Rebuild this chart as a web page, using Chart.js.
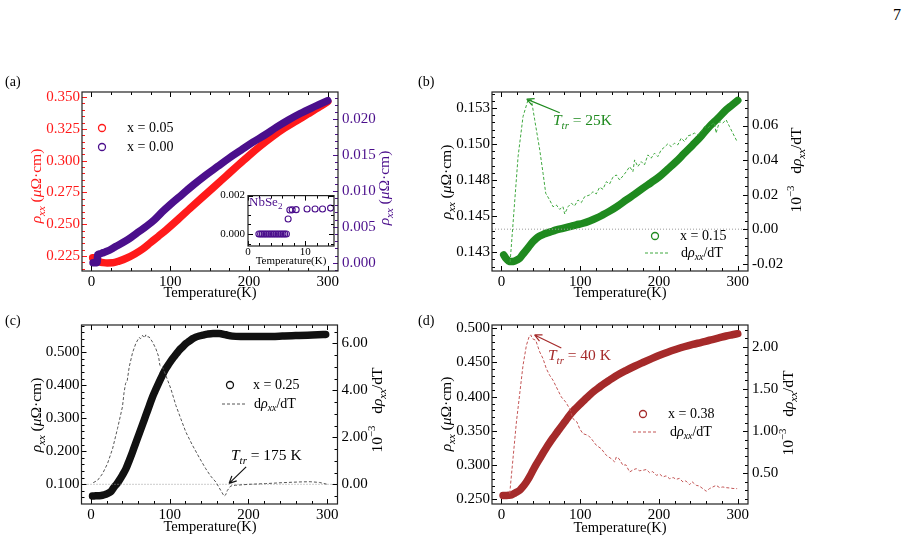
<!DOCTYPE html>
<html>
<head>
<meta charset="utf-8">
<script src="https://cdn.jsdelivr.net/npm/chart.js@4.4.1/dist/chart.umd.min.js"></script>
<style>
  body { margin: 0; background: #fff; }
  #fig { position: relative; width: 910px; height: 542px; overflow: hidden; }
  #fig canvas { position: absolute; }
  .plab { position: absolute; font: 14px "Liberation Serif", serif; color: #000; }
</style>
</head>
<body>
<div id="fig">
  <canvas id="pa"></canvas>
  <canvas id="pin"></canvas>
  <canvas id="pb"></canvas>
  <canvas id="pc"></canvas>
  <canvas id="pd"></canvas>
  <div class="plab" style="left:5px;top:74px">(a)</div>
  <div class="plab" style="left:418px;top:74px">(b)</div>
  <div class="plab" style="left:5px;top:313px">(c)</div>
  <div class="plab" style="left:418px;top:313px">(d)</div>
  <div class="plab" style="left:893px;top:6px;font-size:16px">7</div>
</div>
<script>
// ---- data ----
// (a) x = 0.05 (left axis) and x = 0.00 (right axis)
const tA05 = [1.5, 3, 4.5, 6, 8, 11, 15, 20, 27, 35, 45, 55, 65, 75, 85, 95, 110, 125, 140, 155, 170, 185, 200, 215, 230, 245, 260, 275, 290, 300];
const rhoA05 = [0.2236, 0.2236, 0.2235, 0.2233, 0.2215, 0.2203, 0.2198, 0.2195, 0.2196, 0.2210, 0.2234, 0.2266, 0.2305, 0.2355, 0.2405, 0.2456, 0.2538, 0.2623, 0.2707, 0.2790, 0.2874, 0.2958, 0.3040, 0.3118, 0.3190, 0.3255, 0.3312, 0.3368, 0.3425, 0.3465];
const tA00 = [2, 3, 4, 5, 6, 7, 8, 10, 15, 20, 30, 40, 50, 60, 70, 80, 90, 100, 115, 130, 145, 160, 175, 190, 205, 220, 235, 250, 265, 280, 290, 300];
const rhoA00 = [0, 0, 0, 0, 0, 0, 0.0011, 0.0012, 0.0014, 0.0016, 0.0022, 0.0028, 0.0035, 0.0043, 0.0051, 0.0060, 0.0071, 0.0081, 0.0095, 0.0109, 0.0122, 0.0134, 0.0146, 0.0157, 0.0168, 0.0178, 0.0189, 0.0199, 0.0208, 0.0216, 0.0221, 0.0226];
// inset NbSe2
const tIn = [1.9, 2.2, 2.5, 2.8, 3.1, 3.4, 3.7, 4.0, 4.3, 4.6, 4.9, 5.2, 5.5, 5.8, 6.1, 6.4, 6.7, 7.0, 7.3, 7.7, 8.4, 10.3, 11.7, 13.0, 14.4];
const rhoIn = [0, 0, 0, 0, 0, 0, 0, 0, 0, 0, 0, 0, 0, 0, 0, 0, 0, 0.00078, 0.00125, 0.00126, 0.00127, 0.0013, 0.0013, 0.0013, 0.00135];

// (b) x = 0.15
const tB = [2.9, 6, 9, 12.7, 17, 23.2, 27, 31.7, 36, 40.1, 44, 48.6, 54, 59.1, 65, 69.7, 78, 86.6, 95, 103.5, 112, 120.4, 128, 137.3, 148, 158.5, 169, 179.5, 190, 200.7, 211, 221.9, 232, 243, 254, 264.1, 275, 285.3, 293, 300];
const rhoB = [0.14231, 0.14205, 0.14190, 0.14185, 0.14190, 0.14208, 0.14235, 0.14266, 0.14297, 0.14324, 0.14345, 0.14363, 0.14376, 0.14386, 0.14396, 0.14405, 0.14416, 0.14428, 0.14440, 0.14451, 0.14467, 0.14486, 0.14507, 0.14535, 0.14572, 0.14613, 0.14652, 0.14694, 0.14733, 0.14775, 0.14825, 0.14879, 0.14935, 0.14995, 0.15058, 0.15122, 0.15180, 0.15238, 0.15272, 0.15303];
const tdB = [11, 21.1, 27.4, 33.8, 38, 42.2, 48.6, 52.8, 56.2, 61.2, 65.5, 69.7, 73.9, 78.1, 80.3, 84.5, 88.7, 92.9, 97.2, 101.4, 105.6, 112, 116.2, 120.4, 124.6, 128.9, 133.1, 137.3, 141.5, 145.8, 150, 154.2, 158.5, 162.7, 166.9, 169, 173.2, 177.4, 181.6, 185.9, 190.1, 194.3, 198.5, 202.8, 207, 211.2, 215.5, 219.7, 223.9, 228.2, 232.4, 236.6, 240.8, 245.1, 249.3, 253.5, 257.8, 262, 266.2, 270.4, 272.5, 276.8, 281, 285.2, 289.5, 293.7, 299.2];
const dB = [-0.019, 0.042, 0.0652, 0.0749, 0.0749, 0.0633, 0.0459, 0.0324, 0.0208, 0.0169, 0.0130, 0.0140, 0.0115, 0.0130, 0.0088, 0.0130, 0.0150, 0.0135, 0.0169, 0.0154, 0.0188, 0.0198, 0.0217, 0.0204, 0.0243, 0.0231, 0.0275, 0.0262, 0.0301, 0.0314, 0.0285, 0.0308, 0.0333, 0.0362, 0.0333, 0.0401, 0.0362, 0.0391, 0.0372, 0.0430, 0.0411, 0.0440, 0.0420, 0.0459, 0.0475, 0.0494, 0.0478, 0.0498, 0.0488, 0.0527, 0.0507, 0.0540, 0.0546, 0.0556, 0.0546, 0.0565, 0.0594, 0.0585, 0.0604, 0.0617, 0.0556, 0.0623, 0.0614, 0.0633, 0.0594, 0.0556, 0.0507];

// (c) x = 0.25
const tC = [2, 6, 10, 14.7, 19, 23.2, 26, 29.5, 33, 35.9, 40, 44.4, 48.6, 52.8, 57, 61.2, 65.5, 69.7, 74, 78.1, 82.4, 86.6, 90.8, 95, 99.3, 103.5, 108, 112, 116.2, 120.4, 125, 128.9, 133, 137.3, 142, 147.9, 155, 162.7, 171.2, 179.6, 190, 200.7, 215, 230, 243, 255, 264.1, 275, 288, 298];
const rhoC = [0.0645, 0.0650, 0.0655, 0.0667, 0.0695, 0.0746, 0.080, 0.0918, 0.102, 0.112, 0.128, 0.147, 0.172, 0.198, 0.226, 0.253, 0.281, 0.309, 0.337, 0.3645, 0.388, 0.410, 0.431, 0.4503, 0.466, 0.4806, 0.494, 0.506, 0.516, 0.526, 0.534, 0.541, 0.546, 0.5494, 0.552, 0.555, 0.557, 0.557, 0.553, 0.549, 0.548, 0.548, 0.548, 0.548, 0.549, 0.550, 0.551, 0.552, 0.553, 0.554];
const tdC = [2.9, 8.4, 14.7, 21, 27.4, 33.7, 40, 42, 44, 46, 48.6, 52.8, 57, 61.2, 63, 65.5, 67.6, 69.7, 71.8, 73.9, 78.1, 82.4, 85.8, 87.5, 90.8, 95, 101.4, 107.8, 114.1, 120.4, 128.9, 137.3, 145.8, 152, 158.5, 164.8, 169, 171, 173.2, 177.5, 183.8, 200.7, 221.9, 243, 264.1, 278.2, 290, 300];
const dC = [0.07, 0.17, 0.45, 0.88, 1.51, 2.37, 3.3, 3.9, 4.3, 4.4, 5.0, 5.6, 6.0, 6.25, 6.2, 6.34, 6.23, 6.36, 6.28, 6.27, 6.06, 5.77, 5.45, 5.06, 4.99, 4.64, 4.07, 3.36, 2.79, 2.23, 1.66, 1.15, 0.66, 0.35, 0.10, -0.26, -0.50, -0.45, -0.26, -0.07, -0.04, 0.0, 0.03, 0.07, 0.10, 0.11, 0.08, 0.0];

// (d) x = 0.38
const tD = [2, 6, 9, 12.7, 17, 23.2, 27, 31.7, 36, 40.1, 44, 48.6, 53, 57, 61, 65.5, 70, 73.9, 80, 86.6, 93, 99.3, 106, 112, 118, 124.6, 131, 137.3, 148, 158.5, 169, 179.5, 190, 200.7, 211, 221.9, 232, 243, 254, 264.1, 275, 285.3, 293, 300];
const rhoD = [0.2555, 0.2556, 0.2558, 0.2565, 0.2590, 0.2632, 0.2680, 0.2753, 0.2835, 0.2924, 0.3005, 0.3094, 0.3180, 0.3255, 0.3325, 0.3400, 0.3470, 0.3532, 0.3625, 0.3728, 0.3815, 0.3885, 0.3960, 0.4025, 0.4085, 0.4140, 0.4195, 0.4242, 0.4320, 0.4385, 0.4445, 0.4500, 0.4553, 0.4605, 0.4650, 0.4693, 0.4730, 0.4765, 0.4795, 0.4825, 0.4855, 0.4887, 0.4905, 0.4921];
const tdD = [10.5, 19, 27.4, 31.7, 35, 37.2, 39.3, 43.5, 48.6, 52.8, 57, 61.2, 65.5, 69.7, 76, 81.5, 86.6, 90.8, 95.8, 99.3, 103.5, 109.9, 114.1, 120.4, 126.7, 133.1, 139.4, 143.7, 145.8, 149.2, 154.2, 158, 162.7, 167, 171.2, 175, 179.6, 184, 188.1, 192, 196.6, 201, 205, 209, 213.5, 218, 221.9, 226, 230.4, 234, 238.8, 242, 247.3, 251, 255.7, 260, 264.1, 268.4, 272.6, 277, 281.1, 285, 289.5, 294, 299.2];
const dD = [0.26, 1.108, 1.78, 2.017, 2.115, 2.14, 2.095, 2.076, 1.937, 1.858, 1.739, 1.661, 1.602, 1.522, 1.404, 1.345, 1.265, 1.147, 1.108, 1.028, 0.969, 0.95, 0.91, 0.832, 0.791, 0.713, 0.673, 0.634, 0.693, 0.673, 0.595, 0.60, 0.515, 0.54, 0.555, 0.53, 0.535, 0.545, 0.507, 0.52, 0.476, 0.49, 0.456, 0.47, 0.436, 0.45, 0.428, 0.44, 0.397, 0.41, 0.365, 0.40, 0.357, 0.35, 0.318, 0.287, 0.318, 0.338, 0.357, 0.33, 0.338, 0.33, 0.326, 0.32, 0.318];

// tick values and labels
const tempTicks = [0, 100, 200, 300];
const tempLabels = ['0', '100', '200', '300'];
const aLeftTicks = [0.225, 0.25, 0.275, 0.3, 0.325, 0.35];
const aLeftLabels = ['0.225', '0.250', '0.275', '0.300', '0.325', '0.350'];
const aRightTicks = [0, 0.005, 0.01, 0.015, 0.02];
const aRightLabels = ['0.000', '0.005', '0.010', '0.015', '0.020'];
const inXTicks = [0, 10];
const inXLabels = ['0', '10'];
const inYTicks = [0, 0.002];
const inYLabels = ['0.000', '0.002'];
const bLeftTicks = [0.1425, 0.145, 0.1475, 0.15, 0.1525];
const bLeftLabels = ['0.143', '0.145', '0.148', '0.150', '0.153'];
const bRightTicks = [-0.02, 0, 0.02, 0.04, 0.06];
const bRightLabels = ['-0.02', '0.00', '0.02', '0.04', '0.06'];
const cLeftTicks = [0.1, 0.2, 0.3, 0.4, 0.5];
const cLeftLabels = ['0.100', '0.200', '0.300', '0.400', '0.500'];
const cRightTicks = [0, 2, 4, 6];
const cRightLabels = ['0.00', '2.00', '4.00', '6.00'];
const dLeftTicks = [0.25, 0.3, 0.35, 0.4, 0.45, 0.5];
const dLeftLabels = ['0.250', '0.300', '0.350', '0.400', '0.450', '0.500'];
const dRightTicks = [0.5, 1, 1.5, 2];
const dRightLabels = ['0.50', '1.00', '1.50', '2.00'];

const FONT = '"Liberation Serif", "Times New Roman", serif';
const RED = '#ff1a1a', PURPLE = '#4b0f8c', GREEN = '#1f8a1f', GREEN_D = '#3fa83f';
const BROWN = '#a52a2a', BROWN_D = '#c35555';
const TITLE = 15.5;

function steps(a, b, s) {
  const out = [];
  for (let v = a; v <= b + s / 1000; v += s) out.push(+v.toFixed(6));
  return out;
}
const pts = (xs, ys) => xs.map((x, i) => ({ x, y: ys[i] }));

// rich text: parts = [[text, style]], style has 'i' (italic), 'sub', 'sup'
function drawRich(ctx, parts, x, y, size, color, align, rot) {
  const fontOf = st => (st.includes('i') ? 'italic ' : '') +
    ((st.includes('sub') || st.includes('sup')) ? size * 0.7 : size) + 'px ' + FONT;
  let w = 0;
  parts.forEach(([t, st]) => { ctx.font = fontOf(st); w += ctx.measureText(t).width; });
  ctx.save();
  ctx.translate(x, y);
  if (rot) ctx.rotate(rot);
  let cx = align === 'center' ? -w / 2 : align === 'right' ? -w : 0;
  ctx.fillStyle = color;
  ctx.textBaseline = 'middle';
  parts.forEach(([t, st]) => {
    ctx.font = fontOf(st);
    const dy = st.includes('sub') ? size * 0.3 : st.includes('sup') ? -size * 0.35 : 0;
    ctx.fillText(t, cx, dy);
    cx += ctx.measureText(t).width;
  });
  ctx.restore();
}

const rhoTitle = [['ρ', 'i'], ['xx', 'isub'], [' (', ''], ['μ', 'i'], ['Ω·cm)', '']];
const drvTitle = [['10', ''], ['−3', 'sup'], ['   d', ''], ['ρ', 'i'], ['xx', 'isub'], ['/dT', '']];
const drvLegend = [['d', ''], ['ρ', 'i'], ['xx', 'isub'], ['/dT', '']];
const tempTitle = [['Temperature(K)', '']];
const ttr = s => [['T', 'i'], ['tr', 'isub'], [s, '']];

// frame, inward ticks and annotations
const deco = {
  id: 'deco',
  afterDatasetsDraw(chart, args, o) {
    const { ctx, chartArea: a, scales } = chart;
    ctx.save();
    const inside = (p, lo, hi) => p >= lo - 0.5 && p <= hi + 0.5;
    const xt = (vals, len) => vals.forEach(v => {
      const px = Math.round(scales.x.getPixelForValue(v)) + 0.5;
      if (!inside(px, a.left, a.right)) return;
      ctx.beginPath();
      ctx.moveTo(px, a.bottom); ctx.lineTo(px, a.bottom - len);
      ctx.moveTo(px, a.top); ctx.lineTo(px, a.top + len);
      ctx.stroke();
    });
    const yt = (s, vals, len, side, mirror) => vals.forEach(v => {
      const py = Math.round(s.getPixelForValue(v)) + 0.5;
      if (!inside(py, a.top, a.bottom)) return;
      ctx.beginPath();
      if (side === 'left' || mirror) { ctx.moveTo(a.left, py); ctx.lineTo(a.left + len, py); }
      if (side === 'right' || mirror) { ctx.moveTo(a.right, py); ctx.lineTo(a.right - len, py); }
      ctx.stroke();
    });
    const M = o.major || 5, m = o.minor || 3;
    ctx.lineWidth = 1;
    ctx.strokeStyle = '#000';
    xt(o.x.minor, m); xt(o.x.major, M);
    ctx.strokeStyle = o.y.color || '#000';
    yt(scales.y, o.y.minor, m, 'left', !o.y2); yt(scales.y, o.y.major, M, 'left', !o.y2);
    if (o.y2) {
      ctx.strokeStyle = o.y2.color || '#000';
      yt(scales.y2, o.y2.minor, m, 'right'); yt(scales.y2, o.y2.major, M, 'right');
    }
    ctx.strokeStyle = '#222';
    ctx.lineWidth = 1.2;
    ctx.strokeRect(a.left, a.top, a.right - a.left, a.bottom - a.top);
    ctx.restore();
  },
  afterDraw(chart, args, o) {
    const ctx = chart.ctx, ox = o.ox, oy = o.oy;
    (o.items || []).forEach(it => {
      ctx.save();
      if (it.type === 'text') {
        drawRich(ctx, it.parts, it.x - ox, it.y - oy, it.size || 14, it.color || '#000', it.align || 'left', it.rot ? -Math.PI / 2 : 0);
      } else if (it.type === 'marker') {
        ctx.strokeStyle = it.color; ctx.lineWidth = 1.3;
        ctx.beginPath(); ctx.arc(it.x - ox, it.y - oy, 3.5, 0, Math.PI * 2); ctx.stroke();
      } else if (it.type === 'dash') {
        ctx.strokeStyle = it.color; ctx.lineWidth = 1; ctx.setLineDash([3, 2]);
        ctx.beginPath(); ctx.moveTo(it.x1 - ox, it.y - oy); ctx.lineTo(it.x2 - ox, it.y - oy); ctx.stroke();
      } else if (it.type === 'arrow') {
        const sx = chart.scales.x, sy = chart.scales[it.axis];
        const x1 = sx.getPixelForValue(it.from[0]), y1 = sy.getPixelForValue(it.from[1]);
        const x2 = sx.getPixelForValue(it.to[0]), y2 = sy.getPixelForValue(it.to[1]);
        const ang = Math.atan2(y2 - y1, x2 - x1);
        ctx.strokeStyle = it.color; ctx.lineWidth = 1.2;
        ctx.beginPath(); ctx.moveTo(x1, y1); ctx.lineTo(x2, y2);
        [0.45, -0.45].forEach(d => {
          ctx.moveTo(x2, y2);
          ctx.lineTo(x2 - 8 * Math.cos(ang + d), y2 - 8 * Math.sin(ang + d));
        });
        ctx.stroke();
      }
      ctx.restore();
    });
  }
};

function makePanel(id, box, area, p) {
  const cv = document.getElementById(id);
  cv.width = box.w; cv.height = box.h;
  cv.style.left = box.x + 'px'; cv.style.top = box.y + 'px';
  const tsize = p.tickSize || 15;
  const axis = (ax, extra, pad) => Object.assign({
    type: 'linear', min: ax.min, max: ax.max,
    afterBuildTicks: s => { s.ticks = ax.ticks.map(v => ({ value: v })); },
    ticks: {
      font: { family: FONT, size: tsize }, color: ax.color || '#000', padding: ax.pad ?? pad,
      autoSkip: false, maxRotation: 0, callback: (v, i) => ax.labels[i]
    },
    grid: { display: false, drawTicks: false },
    border: { display: false }
  }, extra);
  const scales = {
    x: axis(p.x, { position: 'bottom', afterFit: s => { s.height = box.y + box.h - area.b; } }, 2),
    y: axis(p.y, { position: 'left', afterFit: s => { s.width = area.l - box.x; } }, 2)
  };
  if (p.y2) scales.y2 = axis(p.y2, { position: 'right', afterFit: s => { s.width = box.x + box.w - area.r; } }, 4);
  new Chart(cv, {
    type: 'scatter',
    data: { datasets: p.datasets },
    options: {
      responsive: false,
      animation: false,
      layout: { padding: { top: area.t - box.y, left: 0, bottom: 0, right: p.y2 ? 0 : box.x + box.w - area.r } },
      scales,
      plugins: {
        legend: { display: false },
        tooltip: { enabled: false },
        deco: {
          ox: box.x, oy: box.y,
          x: { major: p.x.ticks, minor: p.x.minor },
          y: { major: p.y.ticks, minor: p.y.minor, color: p.y.tickColor },
          y2: p.y2 ? { major: p.y2.ticks, minor: p.y2.minor, color: p.y2.tickColor } : null,
          items: p.items
        }
      }
    },
    plugins: [deco]
  });
}

const band = (xs, ys, color, axisId) => ({
  data: pts(xs, ys), yAxisID: axisId, showLine: true,
  borderColor: color, borderWidth: 7.5, borderCapStyle: 'round', borderJoinStyle: 'round',
  cubicInterpolationMode: 'monotone', pointRadius: 0
});
const dashed = (xs, ys, color) => ({
  data: pts(xs, ys), yAxisID: 'y2', showLine: true, borderColor: color, borderWidth: 1,
  borderDash: [3, 2], pointRadius: 0, tension: 0
});
const zeroLine = xr => ({
  data: pts(xr, [0, 0]), yAxisID: 'y2', showLine: true, borderColor: '#9a9a9a', borderWidth: 1,
  borderDash: [1, 2], pointRadius: 0
});
const xRange = [-12, 313];

// (a)
makePanel('pa', { x: 0, y: 75, w: 410, h: 235 }, { l: 82, r: 338, t: 92, b: 271 }, {
  x: { min: -12, max: 313, ticks: tempTicks, labels: tempLabels, minor: steps(0, 300, 25) },
  y: { min: 0.2132, max: 0.354, ticks: aLeftTicks, labels: aLeftLabels, minor: steps(0.215, 0.35, 0.005), color: RED, tickColor: RED },
  y2: { min: -0.00116, max: 0.0238, ticks: aRightTicks, labels: aRightLabels, minor: steps(-0.001, 0.023, 0.001), color: PURPLE, tickColor: PURPLE },
  datasets: [band(tA00, rhoA00, PURPLE, 'y2'), band(tA05, rhoA05, RED, 'y')],
  items: [
    { type: 'text', parts: rhoTitle, x: 37, y: 186, size: TITLE, color: RED, align: 'center', rot: true },
    { type: 'text', parts: rhoTitle, x: 385, y: 188, size: TITLE, color: PURPLE, align: 'center', rot: true },
    { type: 'text', parts: tempTitle, x: 210, y: 293, size: 14.5, align: 'center' },
    { type: 'marker', x: 102, y: 128, color: RED },
    { type: 'text', parts: [['x = 0.05', '']], x: 127, y: 128 },
    { type: 'marker', x: 102, y: 147, color: PURPLE },
    { type: 'text', parts: [['x = 0.00', '']], x: 127, y: 147 }
  ]
});

// inset of (a)
makePanel('pin', { x: 212, y: 186, w: 128, h: 82 }, { l: 248, r: 334, t: 190, b: 246 }, {
  tickSize: 11,
  x: { min: 0, max: 15, ticks: inXTicks, labels: inXLabels, minor: steps(0, 14, 2), pad: 0 },
  y: { min: -0.00062, max: 0.002, ticks: inYTicks, labels: inYLabels, minor: steps(-0.0005, 0.002, 0.0005), pad: 3 },
  datasets: [{
    data: pts(tIn, rhoIn), yAxisID: 'y', pointRadius: 3, pointBorderWidth: 1.1,
    pointBorderColor: PURPLE, pointBackgroundColor: 'rgba(0,0,0,0)'
  }],
  items: [
    { type: 'text', parts: [['NbSe', ''], ['2', 'sub']], x: 249, y: 203, size: 13, color: PURPLE },
    { type: 'text', parts: tempTitle, x: 291, y: 261, size: 11, align: 'center' }
  ]
});

// (b)
makePanel('pb', { x: 410, y: 75, w: 410, h: 235 }, { l: 492, r: 748, t: 92, b: 271 }, {
  x: { min: -12, max: 313, ticks: tempTicks, labels: tempLabels, minor: steps(0, 300, 20) },
  y: { min: 0.1412, max: 0.15361, ticks: bLeftTicks, labels: bLeftLabels, minor: steps(0.1415, 0.1535, 0.0005) },
  y2: { min: -0.0242, max: 0.0794, ticks: bRightTicks, labels: bRightLabels, minor: steps(-0.02, 0.075, 0.005) },
  datasets: [dashed(tdB, dB, GREEN_D), zeroLine(xRange), band(tB, rhoB, GREEN, 'y')],
  items: [
    { type: 'text', parts: rhoTitle, x: 447, y: 182, size: TITLE, align: 'center', rot: true },
    { type: 'text', parts: drvTitle, x: 797, y: 170, size: TITLE, align: 'center', rot: true },
    { type: 'text', parts: tempTitle, x: 620, y: 293, size: 14.5, align: 'center' },
    { type: 'marker', x: 655, y: 236, color: GREEN },
    { type: 'text', parts: [['x = 0.15', '']], x: 680, y: 236 },
    { type: 'dash', x1: 645, x2: 668, y: 253, color: GREEN_D },
    { type: 'text', parts: drvLegend, x: 681, y: 253 },
    { type: 'arrow', axis: 'y2', from: [74, 0.0674], to: [32, 0.0753], color: GREEN },
    { type: 'text', parts: ttr(' = 25K'), x: 553, y: 121, size: 15.5, color: GREEN }
  ]
});

// (c)
makePanel('pc', { x: 0, y: 310, w: 410, h: 232 }, { l: 81.5, r: 337.5, t: 325, b: 504 }, {
  x: { min: -12, max: 313, ticks: tempTicks, labels: tempLabels, minor: steps(0, 300, 20) },
  y: { min: 0.0403, max: 0.5827, ticks: cLeftTicks, labels: cLeftLabels, minor: steps(0.06, 0.58, 0.02) },
  y2: { min: -0.838, max: 6.78, ticks: cRightTicks, labels: cRightLabels, minor: steps(-0.5, 6.5, 0.5) },
  datasets: [dashed(tdC, dC, '#555'), zeroLine(xRange), band(tC, rhoC, '#111', 'y')],
  items: [
    { type: 'text', parts: rhoTitle, x: 37, y: 415, size: TITLE, align: 'center', rot: true },
    { type: 'text', parts: drvTitle, x: 378, y: 410, size: TITLE, align: 'center', rot: true },
    { type: 'text', parts: tempTitle, x: 210, y: 527, size: 14.5, align: 'center' },
    { type: 'marker', x: 230, y: 385, color: '#111' },
    { type: 'text', parts: [['x = 0.25', '']], x: 253, y: 385 },
    { type: 'dash', x1: 222, x2: 245, y: 404, color: '#555' },
    { type: 'text', parts: drvLegend, x: 254, y: 404 },
    { type: 'arrow', axis: 'y2', from: [197, 0.74], to: [175.4, 0.04], color: '#111' },
    { type: 'text', parts: ttr(' = 175 K'), x: 231, y: 456, size: 15.5 }
  ]
});

// (d)
makePanel('pd', { x: 410, y: 310, w: 410, h: 232 }, { l: 492, r: 748, t: 325, b: 504 }, {
  x: { min: -12, max: 313, ticks: tempTicks, labels: tempLabels, minor: steps(0, 300, 20) },
  y: { min: 0.2431, max: 0.5048, ticks: dLeftTicks, labels: dLeftLabels, minor: steps(0.25, 0.5, 0.01) },
  y2: { min: 0.136, max: 2.257, ticks: dRightTicks, labels: dRightLabels, minor: steps(0.2, 2.2, 0.1) },
  datasets: [dashed(tdD, dD, BROWN_D), band(tD, rhoD, BROWN, 'y')],
  items: [
    { type: 'text', parts: rhoTitle, x: 447, y: 414, size: TITLE, align: 'center', rot: true },
    { type: 'text', parts: drvTitle, x: 789, y: 413, size: TITLE, align: 'center', rot: true },
    { type: 'text', parts: tempTitle, x: 620, y: 528, size: 14.5, align: 'center' },
    { type: 'marker', x: 643, y: 414, color: BROWN },
    { type: 'text', parts: [['x = 0.38', '']], x: 668, y: 414 },
    { type: 'dash', x1: 633, x2: 658, y: 432, color: BROWN_D },
    { type: 'text', parts: drvLegend, x: 670, y: 432 },
    { type: 'arrow', axis: 'y2', from: [76, 1.985], to: [42, 2.139], color: BROWN },
    { type: 'text', parts: ttr(' = 40 K'), x: 548, y: 356, size: 15.5, color: BROWN }
  ]
});
</script>
</body>
</html>
